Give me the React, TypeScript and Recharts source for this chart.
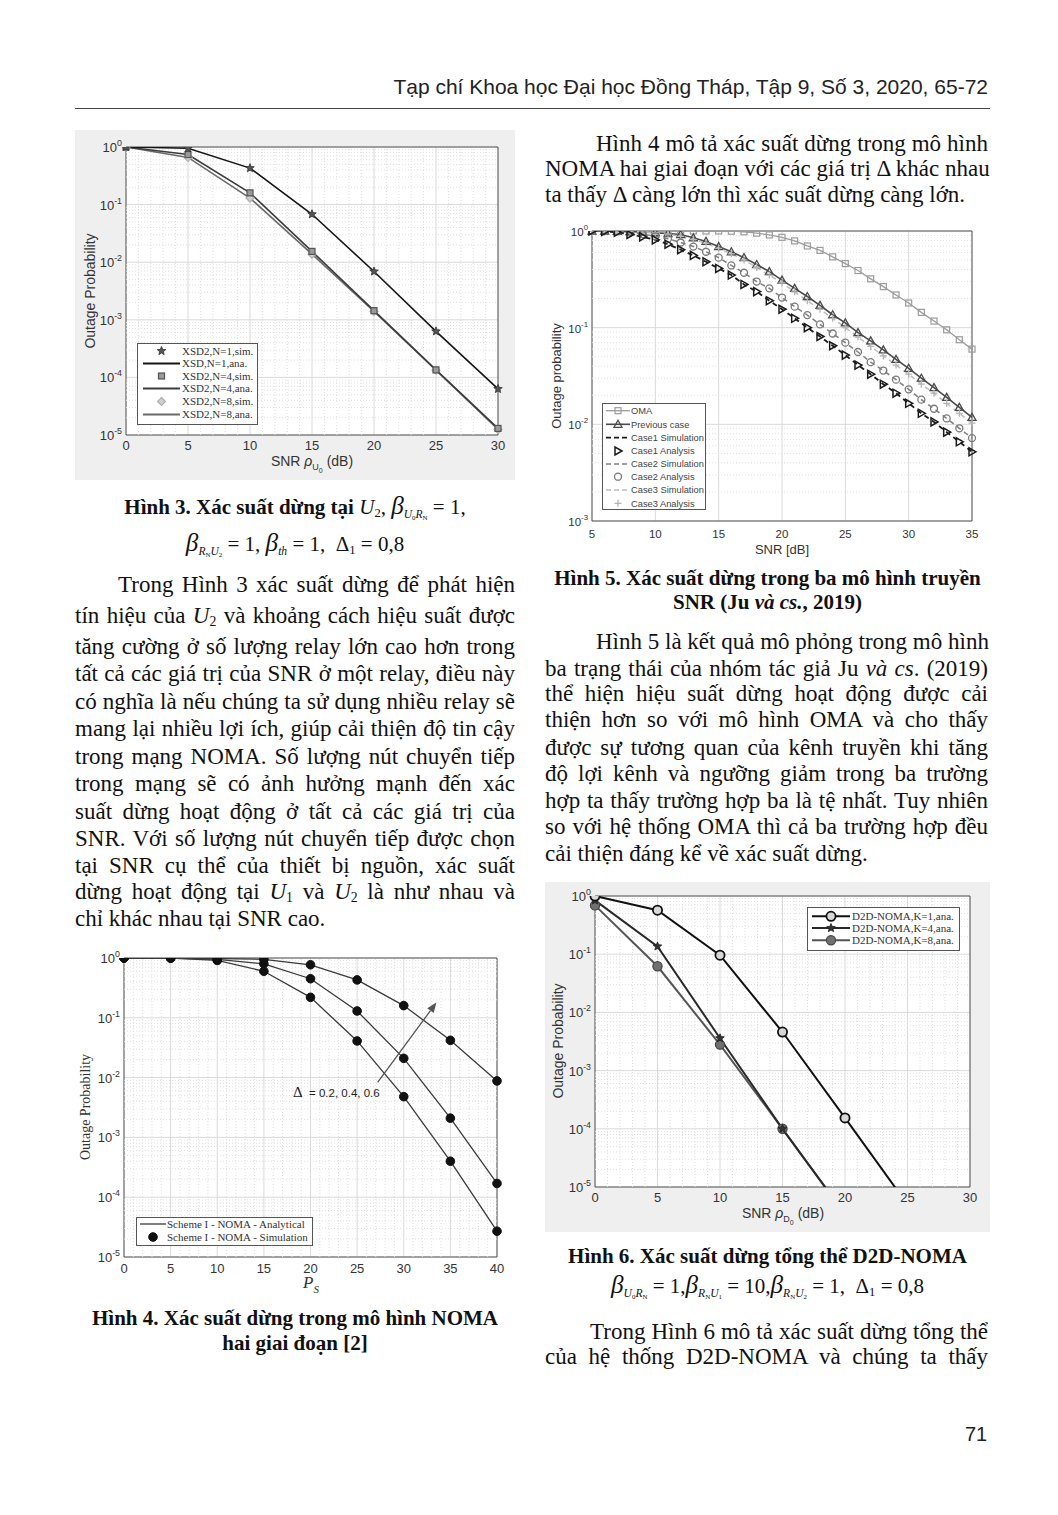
import React from "react";
import {
  LineChart,
  Line,
  XAxis,
  YAxis,
  CartesianGrid,
  ReferenceLine,
  ReferenceArea,
} from "recharts";

const SERIF = '"Liberation Serif", "Times New Roman", serif';
const SANS = '"Liberation Sans", Arial, sans-serif';

// ---- Hình 3: XSD2 theo số relay N
const fig3Snr = [0, 5, 10, 15, 20, 25, 30];
const fig3N1 = [1, 0.95, 0.43, 0.068, 0.0069, 6.3e-4, 6.3e-5];
const fig3N4 = [1, 0.74, 0.16, 0.0154, 0.00144, 1.35e-4, 1.3e-5];
const fig3N8 = [1, 0.66, 0.13, 0.0138, 0.0014, 1.33e-4, 1.25e-5];

// ---- Hình 4: NOMA hai giai đoạn, Δ = 0.2 / 0.4 / 0.6
const fig4Ps = [0, 5, 10, 15, 20, 25, 30, 35, 40];
const fig4D02 = [1, 1, 0.91, 0.6, 0.22, 0.041, 0.0048, 4e-4, 2.7e-5];
const fig4D04 = [1, 1, 0.95, 0.8, 0.45, 0.13, 0.021, 0.0021, 1.7e-4];
const fig4D06 = [1, 1, 0.98, 0.95, 0.77, 0.43, 0.16, 0.042, 0.0088];

// ---- Hình 5: ba mô hình (Ju và cs., 2019)
const fig5Snr = [
  5, 6, 7, 8, 9, 10, 11, 12, 13, 14, 15, 16, 17, 18, 19, 20, 21, 22, 23, 24, 25,
  26, 27, 28, 29, 30, 31, 32, 33, 34, 35,
];
const fig5Oma = [
  1, 1, 1, 1, 1, 1, 1, 1, 1, 1, 1, 0.995, 0.98, 0.95, 0.91, 0.86, 0.79, 0.7,
  0.63, 0.54, 0.46, 0.39, 0.32, 0.266, 0.218, 0.18, 0.144, 0.117, 0.095, 0.075,
  0.06,
];
const fig5Prev = [
  1, 1, 0.99, 0.985, 0.975, 0.96, 0.94, 0.92, 0.85, 0.78, 0.69, 0.61, 0.53,
  0.45, 0.38, 0.31, 0.255, 0.21, 0.17, 0.136, 0.112, 0.089, 0.073, 0.059, 0.047,
  0.038, 0.03, 0.024, 0.019, 0.015, 0.0118,
];
const fig5Case1 = [
  1, 0.99, 0.97, 0.92, 0.87, 0.81, 0.73, 0.64, 0.56, 0.48, 0.41, 0.35, 0.28,
  0.236, 0.19, 0.155, 0.125, 0.1, 0.081, 0.065, 0.052, 0.041, 0.033, 0.026,
  0.021, 0.0165, 0.013, 0.0106, 0.0083, 0.0066, 0.0052,
];
const fig5Case2 = [
  1, 1, 0.99, 0.97, 0.93, 0.88, 0.83, 0.76, 0.69, 0.61, 0.53, 0.44, 0.37, 0.3,
  0.255, 0.205, 0.165, 0.135, 0.108, 0.087, 0.07, 0.056, 0.044, 0.036, 0.029,
  0.023, 0.018, 0.0145, 0.0115, 0.0091, 0.0072,
];
const fig5Case3 = [
  1, 1, 1, 0.99, 0.98, 0.96, 0.93, 0.88, 0.82, 0.75, 0.66, 0.58, 0.5, 0.42,
  0.35, 0.29, 0.235, 0.19, 0.155, 0.125, 0.1, 0.08, 0.064, 0.051, 0.041, 0.033,
  0.026, 0.021, 0.0165, 0.013, 0.0103,
];

// ---- Hình 6: D2D-NOMA theo K
const fig6Snr = [0, 5, 10, 15, 20, 25];
const fig6K1 = [1, 0.57, 0.096, 0.0046, 1.54e-4, 5e-6];
const fig6K4 = [0.84, 0.136, 0.0036, 1.0e-4, 3.4e-6, null];
const fig6K8 = [0.69, 0.062, 0.0028, 1.0e-4, 3.4e-6, null];

const fig3Data = fig3Snr.map((x, i) => ({ x, n1: fig3N1[i], n4: fig3N4[i], n8: fig3N8[i] }));
const fig4Data = fig4Ps.map((x, i) => ({ x, d2: fig4D02[i], d4: fig4D04[i], d6: fig4D06[i] }));
const fig5Data = fig5Snr.map((x, i) => ({
  x,
  oma: fig5Oma[i],
  prev: fig5Prev[i],
  c1: fig5Case1[i],
  c2: fig5Case2[i],
  c3: fig5Case3[i],
}));
const fig6Data = fig6Snr.map((x, i) => ({ x, k1: fig6K1[i], k4: fig6K4[i], k8: fig6K8[i] }));

type MarkSpec = { shape: string; r: number; stroke: string; fill: string; sw?: number };
type SeriesSpec = { key: string; color: string; width: number; dash?: string; mark?: MarkSpec };

function Mark({ cx, cy, m }: { cx?: number; cy?: number; m: MarkSpec }) {
  if (cx == null || cy == null || isNaN(cx) || isNaN(cy)) return null;
  const { shape, r, stroke, fill, sw = 1 } = m;
  const c = { stroke, fill, strokeWidth: sw };
  if (shape === "circle") return <circle cx={cx} cy={cy} r={r} {...c} />;
  if (shape === "square")
    return <rect x={cx - r} y={cy - r} width={2 * r} height={2 * r} {...c} />;
  if (shape === "diamond")
    return <polygon points={`${cx},${cy - r} ${cx + r},${cy} ${cx},${cy + r} ${cx - r},${cy}`} {...c} />;
  if (shape === "triUp")
    return (
      <polygon points={`${cx},${cy - r} ${cx + r},${cy + r * 0.75} ${cx - r},${cy + r * 0.75}`} {...c} />
    );
  if (shape === "triRight")
    return (
      <polygon points={`${cx + r},${cy} ${cx - r * 0.75},${cy - r} ${cx - r * 0.75},${cy + r}`} {...c} />
    );
  if (shape === "plus")
    return <path d={`M${cx - r},${cy}H${cx + r}M${cx},${cy - r}V${cy + r}`} stroke={stroke} strokeWidth={sw} fill="none" />;
  // pentagram
  const pts: string[] = [];
  for (let k = 0; k < 10; k++) {
    const rr = k % 2 === 0 ? r : r * 0.45;
    const a = -Math.PI / 2 + (k * Math.PI) / 5;
    pts.push(`${cx + rr * Math.cos(a)},${cy + rr * Math.sin(a)}`);
  }
  return <polygon points={pts.join(" ")} {...c} />;
}

function minorLog(lo: number, hi: number) {
  const out: number[] = [];
  for (let e = lo; e < hi; e++) for (let m = 2; m <= 9; m++) out.push(m * Math.pow(10, e));
  return out;
}

function range(a: number, b: number, step: number) {
  const out: number[] = [];
  for (let v = a; v <= b; v += step) out.push(v);
  return out;
}

interface ChartProps {
  w: number;
  h: number;
  pad: [number, number, number, number];
  data: any[];
  xDomain: [number, number];
  xTicks: number[];
  xMinor: number[];
  yExp: [number, number];
  series: SeriesSpec[];
  xTickDy: number;
  fs?: number;
  bg?: string;
  children?: React.ReactNode;
}

function LogChart({ w, h, pad, data, xDomain, xTicks, xMinor, yExp, series, xTickDy, fs = 13, bg, children }: ChartProps) {
  const [top, right, bottom, left] = pad;
  const yTicks = range(yExp[0], yExp[1], 1).map((e) => Math.pow(10, e));
  const yMinor = minorLog(yExp[0], yExp[1]);
  return (
    <LineChart
      width={w}
      height={h}
      data={data}
      margin={{ top, right, left: 0, bottom: 0 }}
      style={{ background: bg || "transparent" }}
    >
      <CartesianGrid stroke="#dadada" fill="#ffffff" />
      {xMinor.map((v) => (
        <ReferenceLine key={`mx${v}`} x={v} stroke="#e0e0e0" strokeDasharray="1 2" />
      ))}
      {yMinor.map((v) => (
        <ReferenceLine key={`my${v}`} y={v} stroke="#e0e0e0" strokeDasharray="1 2" />
      ))}
      <XAxis
        dataKey="x"
        type="number"
        domain={xDomain}
        ticks={xTicks}
        interval={0}
        height={bottom}
        tickLine={false}
        axisLine={false}
        tickSize={0}
        tickMargin={0}
        tick={(p: any) => (
          <text x={p.x} y={p.y + xTickDy} textAnchor="middle" fontSize={fs} fontFamily={SANS} fill="#333">
            {p.payload.value}
          </text>
        )}
      />
      <YAxis
        type="number"
        scale="log"
        domain={[yTicks[0], yTicks[yTicks.length - 1]]}
        allowDataOverflow
        ticks={yTicks}
        interval={0}
        width={left}
        tickLine={false}
        axisLine={false}
        tickSize={0}
        tickMargin={0}
        tick={(p: any) => (
          <text x={p.x - 4} y={p.y + 5} textAnchor="end" fontSize={fs} fontFamily={SANS} fill="#333">
            10
            <tspan dy={-6} fontSize={fs * 0.68}>
              {Math.round(Math.log10(p.payload.value))}
            </tspan>
          </text>
        )}
      />
      {series.map((s) => (
        <Line
          key={s.key}
          type="linear"
          dataKey={s.key}
          stroke={s.color}
          strokeWidth={s.width}
          strokeDasharray={s.dash}
          activeDot={false}
          isAnimationActive={false}
          dot={
            s.mark
              ? (p: any) => <Mark key={`${s.key}-${p.index}`} cx={p.cx} cy={p.cy} m={s.mark as MarkSpec} />
              : false
          }
        />
      ))}
      {children}
      <ReferenceArea
        x1={xDomain[0]}
        x2={xDomain[1]}
        y1={yTicks[0]}
        y2={yTicks[yTicks.length - 1]}
        fill="none"
        fillOpacity={0}
        stroke="#555"
        strokeWidth={1}
      />
    </LineChart>
  );
}

type LegendItem = { label: string; color: string; width: number; dash?: string; line: boolean; mark?: MarkSpec };

function LegendBox({
  x,
  y,
  w,
  h,
  rows,
  rowY,
  sampleX,
  sampleW,
  textX,
  font,
  size,
  color,
}: {
  x: number;
  y: number;
  w: number;
  h: number;
  rows: LegendItem[];
  rowY: number[];
  sampleX: number;
  sampleW: number;
  textX: number;
  font: string;
  size: number;
  color: string;
}) {
  return (
    <svg style={{ position: "absolute", left: x, top: y }} width={w} height={h}>
      <rect x={0.5} y={0.5} width={w - 1} height={h - 1} fill="#fff" stroke="#555" />
      {rows.map((r, i) => (
        <g key={r.label}>
          {r.line && (
            <line
              x1={sampleX}
              x2={sampleX + sampleW}
              y1={rowY[i]}
              y2={rowY[i]}
              stroke={r.color}
              strokeWidth={r.width}
              strokeDasharray={r.dash}
            />
          )}
          {r.mark && <Mark cx={sampleX + sampleW / 2} cy={rowY[i]} m={r.mark} />}
          <text x={textX} y={rowY[i] + size * 0.35} fontFamily={font} fontSize={size} fill={color}>
            {r.label}
          </text>
        </g>
      ))}
    </svg>
  );
}

const Arrow = (p: any) => {
  const { x1, y1, x2, y2 } = p;
  const a = Math.atan2(y2 - y1, x2 - x1);
  const L = 10;
  const W = 4;
  const bx = x2 - L * Math.cos(a);
  const by = y2 - L * Math.sin(a);
  const pts = `${x2},${y2} ${bx + W * Math.sin(a)},${by - W * Math.cos(a)} ${bx - W * Math.sin(a)},${by + W * Math.cos(a)}`;
  return (
    <g>
      <line x1={x1} y1={y1} x2={bx} y2={by} stroke="#555" strokeWidth={1.3} />
      <polygon points={pts} fill="#555" />
    </g>
  );
};

// text helpers
function TL({
  x,
  y,
  w,
  j = true,
  s = 23,
  bold = false,
  center = false,
  font = SERIF,
  children,
}: {
  x: number;
  y: number;
  w: number;
  j?: boolean;
  s?: number;
  bold?: boolean;
  center?: boolean;
  font?: string;
  children: React.ReactNode;
}) {
  const align = center ? "center" : j ? "justify" : "left";
  return (
    <div
      style={{
        position: "absolute",
        left: x,
        top: y - s * 0.68,
        width: w,
        fontFamily: font,
        fontSize: s,
        lineHeight: `${s * 1.15}px`,
        fontWeight: bold ? "bold" : "normal",
        textAlign: align as any,
        textAlignLast: align as any,
        whiteSpace: "nowrap",
        color: "#111",
      }}
    >
      {children}
    </div>
  );
}

const Sub = ({ children, s = 0.6 }: { children: React.ReactNode; s?: number }) => (
  <sub style={{ fontSize: `${s}em`, verticalAlign: "-0.25em", fontStyle: "normal" }}>{children}</sub>
);
const U = ({ n }: { n: string }) => (
  <span style={{ fontStyle: "italic" }}>
    U<Sub>{n}</Sub>
  </span>
);
const Beta = ({ children }: { children: React.ReactNode }) => (
  <span style={{ fontWeight: "normal", fontStyle: "italic" }}>
    <span style={{ fontSize: "1.2em" }}>β</span>
    <sub style={{ fontSize: "0.55em", verticalAlign: "-0.35em" }}>{children}</sub>
  </span>
);
const Math2 = ({ children }: { children: React.ReactNode }) => (
  <span style={{ fontWeight: "normal" }}>{children}</span>
);

function Label({ x, y, rot = false, size = 13, font = SANS, children }: any) {
  return (
    <div
      style={{
        position: "absolute",
        left: x,
        top: y,
        transform: `translate(-50%, -50%)${rot ? " rotate(-90deg)" : ""}`,
        whiteSpace: "nowrap",
        fontFamily: font,
        fontSize: size,
        color: "#333",
      }}
    >
      {children}
    </div>
  );
}

export default function App() {
  const f3Series: SeriesSpec[] = [
    { key: "n8", color: "#6a6a6a", width: 1.6, mark: { shape: "diamond", r: 4, stroke: "#b0b0b0", fill: "#d0d0d0", sw: 1.2 } },
    { key: "n4", color: "#3c3c3c", width: 1.6, mark: { shape: "square", r: 3, stroke: "#555", fill: "#9a9a9a", sw: 1.2 } },
    { key: "n1", color: "#161616", width: 1.6, mark: { shape: "star", r: 4.5, stroke: "#333", fill: "#555", sw: 0.8 } },
  ];
  const f4Mark: MarkSpec = { shape: "circle", r: 4.3, stroke: "#111", fill: "#111" };
  const f4Series: SeriesSpec[] = [
    { key: "d2", color: "#3a3a3a", width: 1.3, mark: f4Mark },
    { key: "d4", color: "#3a3a3a", width: 1.3, mark: f4Mark },
    { key: "d6", color: "#3a3a3a", width: 1.3, mark: f4Mark },
  ];
  const f5Series: SeriesSpec[] = [
    { key: "oma", color: "#9c9c9c", width: 1.3, mark: { shape: "square", r: 3, stroke: "#9c9c9c", fill: "none", sw: 1.2 } },
    { key: "prev", color: "#4a4a4a", width: 1.6, mark: { shape: "triUp", r: 4, stroke: "#4a4a4a", fill: "none", sw: 1.3 } },
    { key: "c3", color: "#bdbdbd", width: 1.5, dash: "5 4", mark: { shape: "plus", r: 3.5, stroke: "#b5b5b5", fill: "none", sw: 1.3 } },
    { key: "c2", color: "#808080", width: 1.5, dash: "5 4", mark: { shape: "circle", r: 3.5, stroke: "#7a7a7a", fill: "none", sw: 1.3 } },
    { key: "c1", color: "#1a1a1a", width: 1.8, dash: "5 4", mark: { shape: "triRight", r: 4, stroke: "#1a1a1a", fill: "none", sw: 1.5 } },
  ];
  const f6Series: SeriesSpec[] = [
    { key: "k8", color: "#555", width: 2, mark: { shape: "circle", r: 4.6, stroke: "#444", fill: "#707070", sw: 1.2 } },
    { key: "k4", color: "#2a2a2a", width: 2, mark: { shape: "star", r: 4.5, stroke: "#222", fill: "#333", sw: 0.8 } },
    { key: "k1", color: "#111", width: 2, mark: { shape: "circle", r: 4.6, stroke: "#111", fill: "#d8d8d8", sw: 1.8 } },
  ];

  const lc = 75;
  const lw = 440;
  const rc = 545;
  const rw = 443;

  return (
    <div style={{ position: "absolute", left: 0, top: 0, width: 1058, height: 1515, background: "#fff", overflow: "hidden" }}>
      {/* header */}
      <div
        style={{
          position: "absolute",
          right: 1058 - 988,
          top: 75,
          fontFamily: SANS,
          fontSize: 21,
          color: "#222",
          whiteSpace: "nowrap",
        }}
      >
        Tạp chí Khoa học Đại học Đồng Tháp, Tập 9, Số 3, 2020, 65-72
      </div>
      <div style={{ position: "absolute", left: 75, top: 108, width: 915, height: 1, background: "#444" }} />

      {/* Hình 3 */}
      <div style={{ position: "absolute", left: 75, top: 130, width: 440, height: 350, background: "#efefef" }}>
        <LogChart
          w={440}
          h={350}
          pad={[17, 17, 45, 51]}
          data={fig3Data}
          xDomain={[0, 30]}
          xTicks={range(0, 30, 5)}
          xMinor={range(1, 29, 1).filter((v) => v % 5 !== 0)}
          yExp={[-5, 0]}
          series={f3Series}
          xTickDy={15}
        />
      </div>
      <Label x={90} y={291} rot size={14}>Outage Probability</Label>
      <Label x={312} y={463} size={14}>
        SNR <i>ρ</i>
        <sub style={{ fontSize: 9 }}>
          U<sub style={{ fontSize: 7 }}>0</sub>
        </sub>{" "}
        (dB)
      </Label>
      <LegendBox
        x={137}
        y={343}
        w={121}
        h={82}
        rowY={[8, 20.5, 33, 45.5, 58.5, 71.5]}
        sampleX={6}
        sampleW={37}
        textX={45}
        font={SERIF}
        size={11}
        color="#333"
        rows={[
          { label: "XSD2,N=1,sim.", color: "#161616", width: 1.6, line: false, mark: f3Series[2].mark },
          { label: "XSD,N=1,ana.", color: "#161616", width: 2, line: true },
          { label: "XSD2,N=4,sim.", color: "#3c3c3c", width: 1.6, line: false, mark: f3Series[1].mark },
          { label: "XSD2,N=4,ana.", color: "#3c3c3c", width: 2, line: true },
          { label: "XSD2,N=8,sim.", color: "#6a6a6a", width: 1.6, line: false, mark: f3Series[0].mark },
          { label: "XSD2,N=8,ana.", color: "#6a6a6a", width: 2, line: true },
        ]}
      />

      {/* Caption 3 */}
      <TL x={lc} y={508} w={lw} center bold s={21}>
        Hình 3. Xác suất dừng tại{" "}
        <Math2>
          <U n="2" />, <Beta>U<Sub>0</Sub>R<Sub>N</Sub></Beta> = 1,
        </Math2>
      </TL>
      <TL x={lc} y={545} w={lw} center s={21}>
        <Beta>R<Sub>N</Sub>U<Sub>2</Sub></Beta> = 1, <Beta>th</Beta> = 1, &nbsp;Δ<Sub>1</Sub> = 0,8
      </TL>

      {/* đoạn văn cột trái */}
      <TL x={118} y={588} w={397}>Trong Hình 3 xác suất dừng để phát hiện</TL>
      <TL x={lc} y={619} w={lw}>
        tín hiệu của <U n="2" /> và khoảng cách hiệu suất được
      </TL>
      <TL x={lc} y={650} w={lw}>tăng cường ở số lượng relay lớn cao hơn trong</TL>
      <TL x={lc} y={677} w={lw}>tất cả các giá trị của SNR ở một relay, điều này</TL>
      <TL x={lc} y={705} w={lw}>có nghĩa là nếu chúng ta sử dụng nhiều relay sẽ</TL>
      <TL x={lc} y={732} w={lw}>mang lại nhiều lợi ích, giúp cải thiện độ tin cậy</TL>
      <TL x={lc} y={760} w={lw}>trong mạng NOMA. Số lượng nút chuyển tiếp</TL>
      <TL x={lc} y={787} w={lw}>trong mạng sẽ có ảnh hưởng mạnh đến xác</TL>
      <TL x={lc} y={815} w={lw}>suất dừng hoạt động ở tất cả các giá trị của</TL>
      <TL x={lc} y={842} w={lw}>SNR. Với số lượng nút chuyển tiếp được chọn</TL>
      <TL x={lc} y={869} w={lw}>tại SNR cụ thể của thiết bị nguồn, xác suất</TL>
      <TL x={lc} y={895} w={lw}>
        dừng hoạt động tại <U n="1" /> và <U n="2" /> là như nhau và
      </TL>
      <TL x={lc} y={922} w={lw} j={false}>chỉ khác nhau tại SNR cao.</TL>

      {/* Hình 4 */}
      <div style={{ position: "absolute", left: 80, top: 945, width: 440, height: 345 }}>
        <LogChart
          w={440}
          h={345}
          pad={[13, 23, 33, 44]}
          data={fig4Data}
          xDomain={[0, 40]}
          xTicks={range(0, 40, 5)}
          xMinor={range(1, 39, 1).filter((v) => v % 5 !== 0)}
          yExp={[-5, 0]}
          series={f4Series}
          xTickDy={16}
        >
          <ReferenceLine
            segment={[
              { x: 27.2, y: 0.0083 },
              { x: 33.5, y: 0.18 },
            ]}
            shape={Arrow}
          />
        </LogChart>
      </div>
      <Label x={86} y={1107} rot size={14} font={SERIF}>Outage Probability</Label>
      <Label x={311} y={1284} size={17} font={SERIF}>
        <i>P</i>
        <sub style={{ fontSize: 11, fontStyle: "italic" }}>S</sub>
      </Label>
      <div style={{ position: "absolute", left: 293, top: 1083, whiteSpace: "nowrap", color: "#222" }}>
        <span style={{ fontFamily: SERIF, fontSize: 15 }}>Δ</span>
        <span style={{ fontFamily: SANS, fontSize: 11.5 }}> &nbsp;= 0.2, 0.4, 0.6</span>
      </div>
      <LegendBox
        x={136}
        y={1217}
        w={177}
        h={29}
        rowY={[7, 20]}
        sampleX={4}
        sampleW={26}
        textX={31}
        font={SERIF}
        size={11}
        color="#333"
        rows={[
          { label: "Scheme I - NOMA - Analytical", color: "#3a3a3a", width: 1.3, line: true },
          { label: "Scheme I - NOMA - Simulation", color: "#111", width: 1, line: false, mark: f4Mark },
        ]}
      />

      {/* Caption 4 */}
      <TL x={lc} y={1320} w={lw} center bold s={21}>Hình 4. Xác suất dừng trong mô hình NOMA</TL>
      <TL x={lc} y={1345} w={lw} center bold s={21}>hai giai đoạn [2]</TL>

      {/* cột phải: đoạn đầu */}
      <TL x={596} y={147} w={392}>Hình 4 mô tả xác suất dừng trong mô hình</TL>
      <TL x={rc} y={172} w={rw}>NOMA hai giai đoạn với các giá trị Δ khác nhau</TL>
      <TL x={rc} y={198} w={rw} j={false}>ta thấy Δ càng lớn thì xác suất dừng càng lớn.</TL>

      {/* Hình 5 */}
      <div style={{ position: "absolute", left: 545, top: 222, width: 445, height: 340 }}>
        <LogChart
          w={445}
          h={340}
          pad={[9, 18, 41, 47]}
          data={fig5Data}
          xDomain={[5, 35]}
          xTicks={range(5, 35, 5)}
          xMinor={[]}
          yExp={[-3, 0]}
          series={f5Series}
          xTickDy={17}
          fs={11.5}
        />
      </div>
      <Label x={556} y={376} rot size={13}>Outage probability</Label>
      <Label x={782} y={549} size={13}>SNR [dB]</Label>
      <LegendBox
        x={602}
        y={403}
        w={104}
        h={107}
        rowY={[7.7, 21.3, 34.7, 48, 61, 73.7, 87, 100.3]}
        sampleX={4}
        sampleW={24}
        textX={29}
        font={SANS}
        size={9.3}
        color="#444"
        rows={[
          { label: "OMA", color: "#9c9c9c", width: 1.3, line: true, mark: f5Series[0].mark },
          { label: "Previous case", color: "#4a4a4a", width: 1.6, line: true, mark: f5Series[1].mark },
          { label: "Case1 Simulation", color: "#1a1a1a", width: 1.8, dash: "5 3", line: true },
          { label: "Case1 Analysis", color: "#1a1a1a", width: 1.5, line: false, mark: f5Series[4].mark },
          { label: "Case2 Simulation", color: "#808080", width: 1.5, dash: "5 3", line: true },
          { label: "Case2 Analysis", color: "#7a7a7a", width: 1.3, line: false, mark: f5Series[3].mark },
          { label: "Case3 Simulation", color: "#bdbdbd", width: 1.5, dash: "5 3", line: true },
          { label: "Case3 Analysis", color: "#b5b5b5", width: 1.3, line: false, mark: f5Series[2].mark },
        ]}
      />

      {/* Caption 5 */}
      <TL x={rc} y={580} w={445} center bold s={21}>Hình 5. Xác suất dừng trong ba mô hình truyền</TL>
      <TL x={rc} y={604} w={445} center bold s={21}>
        SNR (Ju <i>và cs.</i>, 2019)
      </TL>

      <TL x={596} y={645} w={392}>Hình 5 là kết quả mô phỏng trong mô hình</TL>
      <TL x={rc} y={672} w={rw}>
        ba trạng thái của nhóm tác giả Ju <i>và cs</i>. (2019)
      </TL>
      <TL x={rc} y={697} w={rw}>thể hiện hiệu suất dừng hoạt động được cải</TL>
      <TL x={rc} y={723} w={rw}>thiện hơn so với mô hình OMA và cho thấy</TL>
      <TL x={rc} y={751} w={rw}>được sự tương quan của kênh truyền khi tăng</TL>
      <TL x={rc} y={777} w={rw}>độ lợi kênh và ngưỡng giảm trong ba trường</TL>
      <TL x={rc} y={804} w={rw}>hợp ta thấy trường hợp ba là tệ nhất. Tuy nhiên</TL>
      <TL x={rc} y={830} w={rw}>so với hệ thống OMA thì cả ba trường hợp đều</TL>
      <TL x={rc} y={857} w={rw} j={false}>cải thiện đáng kể về xác suất dừng.</TL>

      {/* Hình 6 */}
      <div style={{ position: "absolute", left: 545, top: 882, width: 445, height: 350, background: "#efefef" }}>
        <LogChart
          w={445}
          h={350}
          pad={[14, 20, 45, 50]}
          data={fig6Data}
          xDomain={[0, 30]}
          xTicks={range(0, 30, 5)}
          xMinor={range(1, 29, 1).filter((v) => v % 5 !== 0)}
          yExp={[-5, 0]}
          series={f6Series}
          xTickDy={15}
        />
      </div>
      <Label x={558} y={1041} rot size={14}>Outage Probability</Label>
      <Label x={783} y={1215} size={14}>
        SNR <i>ρ</i>
        <sub style={{ fontSize: 9 }}>
          D<sub style={{ fontSize: 7 }}>0</sub>
        </sub>{" "}
        (dB)
      </Label>
      <LegendBox
        x={807}
        y={907}
        w={153}
        h={44}
        rowY={[9.3, 21, 33.3]}
        sampleX={5}
        sampleW={38}
        textX={45}
        font={SERIF}
        size={11}
        color="#333"
        rows={[
          { label: "D2D-NOMA,K=1,ana.", color: "#111", width: 2, line: true, mark: f6Series[2].mark },
          { label: "D2D-NOMA,K=4,ana.", color: "#2a2a2a", width: 2, line: true, mark: f6Series[1].mark },
          { label: "D2D-NOMA,K=8,ana.", color: "#555", width: 2, line: true, mark: f6Series[0].mark },
        ]}
      />

      {/* Caption 6 */}
      <TL x={rc} y={1258} w={445} center bold s={21}>Hình 6. Xác suất dừng tổng thể D2D-NOMA</TL>
      <TL x={rc} y={1287} w={445} center s={21}>
        <Beta>U<Sub>0</Sub>R<Sub>N</Sub></Beta> = 1,<Beta>R<Sub>N</Sub>U<Sub>1</Sub></Beta> = 10,
        <Beta>R<Sub>N</Sub>U<Sub>2</Sub></Beta> = 1, &nbsp;Δ<Sub>1</Sub> = 0,8
      </TL>

      <TL x={590} y={1335} w={398}>Trong Hình 6 mô tả xác suất dừng tổng thể</TL>
      <TL x={rc} y={1360} w={rw}>của hệ thống D2D-NOMA và chúng ta thấy</TL>

      {/* số trang */}
      <div style={{ position: "absolute", left: 965, top: 1423, fontFamily: SANS, fontSize: 20, color: "#222" }}>71</div>
    </div>
  );
}
